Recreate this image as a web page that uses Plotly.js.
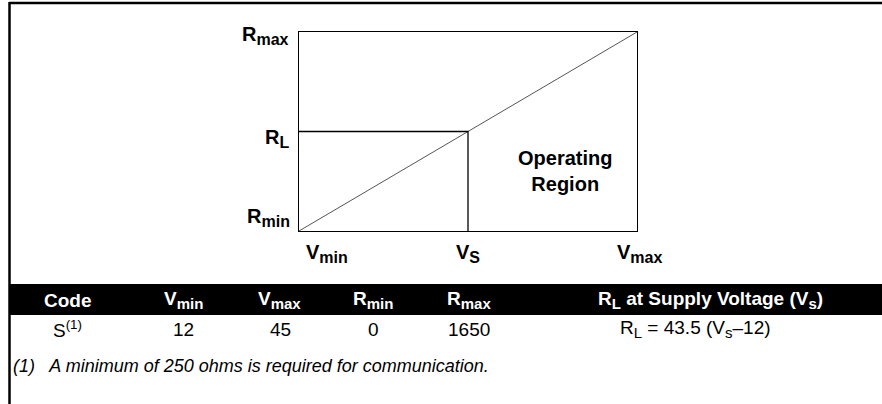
<!DOCTYPE html>
<html>
<head>
<meta charset="utf-8">
<script src="https://cdn.plot.ly/plotly-3.0.1.min.js"></script>
<style>
  body { margin: 0; background: white; }
  #plotDiv { width: 882px; height: 404px; }
</style>
</head>
<body>
<div id="plotDiv"></div>
<script>
// schematic: the original chart is not drawn to scale
var vMin = 12, vMax = 45, vS = 28.5;
var rMin = 0, rMax = 1650, rL = 825;

var lineX = [vMin, vMax];
var lineY = [rMin, rMax];

function sub(t) { return '<sub><span style="font-size:15px">' + t + '</span></sub>'; }

var tableHeaders = ['Code', 'V' + sub('min'), 'V' + sub('max'), 'R' + sub('min'), 'R' + sub('max'),
    'R' + sub('L') + ' at Supply Voltage (V' + sub('s') + ')'];
var tableRow = ['S<sup>(1)</sup>', '12', '45', '0', '1650', 'R' + sub('L') + ' = 43.5 (V' + sub('s') + '\u201312)'];
var footnote = '(1)   A minimum of 250 ohms is required for communication.';

var FONT = '"Liberation Sans", Arial, sans-serif';

// plot box in pixels
var L = 299, T = 32, W = 338, H = 199;
function px(x) { return (x - L) / W; }
function py(y) { return (T + H - y) / H; }

var headerX = [68, 183, 279, 373, 469, 710];
var rowX = [68, 183, 280, 373, 469, 695];

var data = [
    {
        x: lineX, y: lineY,
        mode: 'lines',
        line: { color: '#555', width: 1 },
        hoverinfo: 'skip'
    },
    {
        x: [vMin, vS, vS], y: [rL, rL, rMin],
        mode: 'lines',
        line: { color: 'black', width: 1.3 },
        hoverinfo: 'skip'
    }
];

var ann = [];
function label(txt, opts) {
    ann.push(Object.assign({
        text: txt, showarrow: false,
        font: { family: FONT, size: 20, color: 'black' }
    }, opts));
}
function axSub(t) { return '<sub><span style="font-size:16px">' + t + '</span></sub>'; }

// axis labels
label('<b>R' + axSub('max') + '</b>', { xref: 'paper', x: px(291), xanchor: 'right', yref: 'y', y: rMax, yanchor: 'middle', yshift: -3 });
label('<b>R' + axSub('L') + '</b>', { xref: 'paper', x: px(291), xanchor: 'right', yref: 'y', y: rL, yanchor: 'middle', yshift: -7 });
label('<b>R' + axSub('min') + '</b>', { xref: 'paper', x: px(292), xanchor: 'right', yref: 'y', y: rMin, yanchor: 'middle', yshift: 14 });
label('<b>V' + axSub('min') + '</b>', { xref: 'x', x: vMin, xanchor: 'left', xshift: 5, yref: 'paper', y: py(253), yanchor: 'middle' });
label('<b>V' + axSub('S') + '</b>', { xref: 'x', x: vS, xanchor: 'center', yref: 'paper', y: py(253), yanchor: 'middle' });
label('<b>V' + axSub('max') + '</b>', { xref: 'x', x: vMax, xanchor: 'center', xshift: 2, yref: 'paper', y: py(253), yanchor: 'middle' });
label('<b>Operating<br>Region</b>', { xref: 'paper', x: px(565), yref: 'paper', y: py(171), xanchor: 'center', yanchor: 'middle' });

// table
for (var i = 0; i < tableHeaders.length; i++) {
    ann.push({
        text: '<b>' + tableHeaders[i] + '</b>', showarrow: false,
        xref: 'paper', yref: 'paper', x: px(headerX[i]), y: py(300),
        xanchor: 'center', yanchor: 'middle',
        font: { family: FONT, size: 19, color: 'white' }
    });
    ann.push({
        text: tableRow[i], showarrow: false,
        xref: 'paper', yref: 'paper', x: px(rowX[i]), y: py(329),
        xanchor: 'center', yanchor: 'middle',
        font: { family: FONT, size: 19, color: 'black' }
    });
}
ann.push({
    text: '<i>' + footnote + '</i>', showarrow: false,
    xref: 'paper', yref: 'paper', x: px(11), y: py(366),
    xanchor: 'left', yanchor: 'middle',
    font: { family: FONT, size: 18, color: 'black' }
});

var shapes = [
    // outer frame
    { type: 'line', xref: 'paper', yref: 'paper', x0: px(9.5), y0: py(3), x1: px(884), y1: py(3), line: { color: 'black', width: 2.5 } },
    { type: 'line', xref: 'paper', yref: 'paper', x0: px(9.5), y0: py(2), x1: px(9.5), y1: py(406), line: { color: 'black', width: 2.5 } },
    // table header band
    { type: 'rect', xref: 'paper', yref: 'paper', x0: px(9), y0: py(284), x1: px(884), y1: py(315), fillcolor: 'black', line: { width: 0 }, layer: 'below' }
];

var layout = {
    width: 882, height: 404,
    margin: { l: L, r: 882 - L - W, t: T, b: 404 - T - H },
    paper_bgcolor: 'white', plot_bgcolor: 'white',
    showlegend: false,
    font: { family: FONT },
    xaxis: {
        range: [vMin, vMax], showline: true, mirror: true, linecolor: 'black', linewidth: 1.3,
        showgrid: false, zeroline: false, showticklabels: false, ticks: '', fixedrange: true
    },
    yaxis: {
        range: [rMin, rMax], showline: true, mirror: true, linecolor: 'black', linewidth: 1.3,
        showgrid: false, zeroline: false, showticklabels: false, ticks: '', fixedrange: true
    },
    annotations: ann,
    shapes: shapes
};

Plotly.newPlot('plotDiv', data, layout, { staticPlot: true });
</script>
</body>
</html>
